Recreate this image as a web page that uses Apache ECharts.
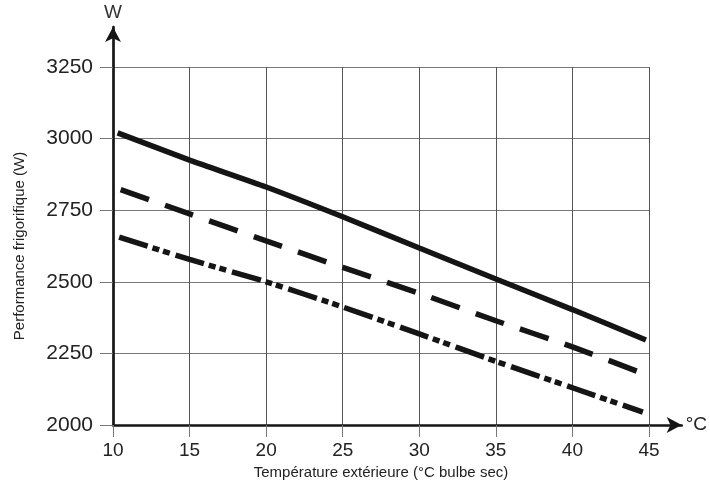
<!DOCTYPE html>
<html>
<head>
<meta charset="utf-8">
<script src="https://cdn.jsdelivr.net/npm/echarts@6/dist/echarts.min.js"></script>
<style>
    html, body {margin: 0; padding: 0; background: #fff;}
    #chart {width: 710px; height: 495px;}
</style>
</head>
<body>
<div id="chart"></div>
<script>
// axes
const xTicks = [10, 15, 20, 25, 30, 35, 40, 45];
const yTicks = [2000, 2250, 2500, 2750, 3000, 3250];

// courbes
const solidT = [10.3, 15, 20, 25, 30, 35, 40, 44.8];
const solidW = [3020, 2925, 2831, 2727, 2618, 2510, 2403, 2297];

const dashT = [10.5, 15, 20, 25, 30, 35, 40, 44.5];
const dashW = [2822, 2737, 2643, 2550, 2460, 2364, 2273, 2182];

const dotT = [10.4, 15, 20, 25, 30, 35, 40, 44.6];
const dotW = [2656, 2578, 2500, 2412, 2318, 2222, 2130, 2045];

const FONT = '"Liberation Sans", Arial, sans-serif';
const INK = '#151515';

function pairs(t, w) {
    return t.map((v, i) => [v, w[i]]);
}

function curve(data, type) {
    return {
        type: 'line',
        xAxisIndex: 0,
        yAxisIndex: 0,
        data: data,
        symbol: 'none',
        smooth: 0.2,
        silent: true,
        z: 5,
        lineStyle: {color: INK, width: 5.5, type: type, cap: 'butt'}
    };
}

const chart = echarts.init(document.getElementById('chart'));

chart.setOption({
    animation: false,
    backgroundColor: '#fff',
    grid: [
        {left: 113, right: 61, top: 67, bottom: 70},
        // grille des flèches
        {left: 113, right: 24, top: 27, bottom: 70}
    ],
    xAxis: [{
        gridIndex: 0,
        type: 'value',
        min: xTicks[0],
        max: xTicks[xTicks.length - 1],
        interval: 5,
        axisLine: {show: false},
        axisTick: {show: true, length: 12, lineStyle: {color: '#777', width: 1}},
        splitLine: {show: true, lineStyle: {color: '#555', width: 1}},
        axisLabel: {fontFamily: FONT, fontSize: 19, color: '#222', margin: 16},
        name: 'Température extérieure (°C bulbe sec)',
        nameLocation: 'middle',
        nameGap: 30,
        nameTextStyle: {fontFamily: FONT, fontSize: 15, color: '#222'}
    }, {
        gridIndex: 1,
        type: 'value',
        min: 0,
        max: 1,
        axisLine: {show: true, lineStyle: {color: INK, width: 2.7}, symbol: ['none', 'arrow'], symbolSize: [12, 15]},
        axisTick: {show: false},
        splitLine: {show: false},
        axisLabel: {show: false},
        name: '°C',
        nameLocation: 'end',
        nameGap: 4,
        nameTextStyle: {fontFamily: FONT, fontSize: 19, color: '#222'}
    }],
    yAxis: [{
        gridIndex: 0,
        type: 'value',
        min: yTicks[0],
        max: yTicks[yTicks.length - 1],
        interval: 250,
        axisLine: {show: false},
        axisTick: {show: true, length: 13, lineStyle: {color: '#777', width: 1}},
        splitLine: {show: true, lineStyle: {color: '#777', width: 1}},
        axisLabel: {fontFamily: FONT, fontSize: 21, color: '#222', margin: 20, formatter: (v) => String(v)},
        name: 'Performance frigorifique (W)',
        nameLocation: 'middle',
        nameRotate: 90,
        nameGap: 86,
        nameTextStyle: {fontFamily: FONT, fontSize: 15, color: '#222'}
    }, {
        gridIndex: 1,
        type: 'value',
        min: 0,
        max: 1,
        axisLine: {show: true, lineStyle: {color: INK, width: 2.7}, symbol: ['none', 'arrow'], symbolSize: [12, 15]},
        axisTick: {show: false},
        splitLine: {show: false},
        axisLabel: {show: false},
        name: 'W',
        nameLocation: 'end',
        nameGap: 5,
        nameTextStyle: {fontFamily: FONT, fontSize: 19, color: '#333'}
    }],
    series: [
        curve(pairs(solidT, solidW), 'solid'),
        curve(pairs(dashT, dashW), [30, 17]),
        curve(pairs(dotT, dotW), [30, 5, 7, 4, 7, 6]),
        {type: 'line', xAxisIndex: 1, yAxisIndex: 1, data: [], silent: true}
    ]
});
</script>
</body>
</html>
